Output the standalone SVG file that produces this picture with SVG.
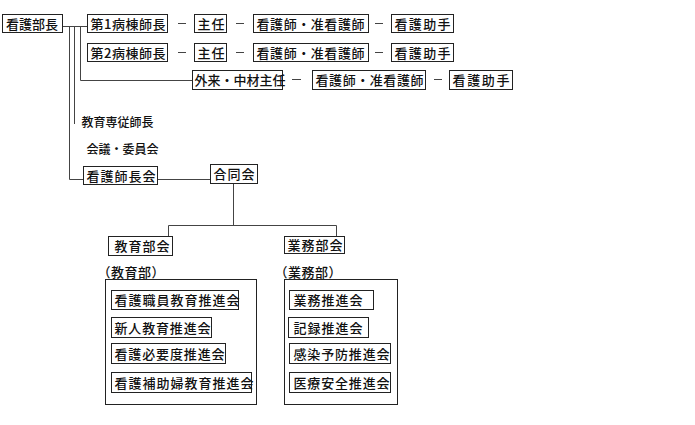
<svg xmlns="http://www.w3.org/2000/svg" width="695" height="425" viewBox="0 0 695 425">
<style>
.b{fill:#fff;stroke:#222;stroke-width:1}
.g{fill:none;stroke:#222;stroke-width:1}
.t{font-family:"Noto Sans CJK JP","Noto Sans CJK SC",sans-serif;font-size:13px;font-weight:500;fill:#111}
.s{font-size:12px}
.c{fill:none;stroke:#444;stroke-width:1}
</style>
<rect width="695" height="425" fill="#fff"/>
<g id="connectors">
<path class="c" d="M62 26.5H87.5"/>
<path class="c" d="M69.5 26.5V179.5H83.5"/>
<path class="c" d="M74.5 26.5V124"/>
<path class="c" d="M80.5 26.5V80.5H192.5"/>
<path class="c" d="M157.5 179.5H210.5"/>
<path class="c" d="M233.5 183.5V225.5M168.5 236V225.5H336.5V236"/>
<path class="c" d="M178 23.5H186M236 23.5H244M375 23.5H383M178 52.5H186M236 52.5H244M375 52.5H383M292 79.5H301M434 79.5H442"/>
</g>
<g id="bucho"><rect class="b" x="2.5" y="14.5" width="60" height="18"/><text class="t" x="6" y="28.5" textLength="52" lengthAdjust="spacing">看護部長</text></g>
<g id="ward1"><rect class="b" x="87.5" y="14.5" width="80" height="18"/><text class="t" x="90.5" y="28.5" textLength="75" lengthAdjust="spacing">第1病棟師長</text></g>
<g id="shunin1"><rect class="b" x="194.5" y="14.5" width="32" height="18"/><text class="t" x="197.5" y="28.5" textLength="27" lengthAdjust="spacing">主任</text></g>
<g id="kangoshi1"><rect class="b" x="253.5" y="14.5" width="115" height="18"/><text class="t" x="256.5" y="28.5" textLength="108" lengthAdjust="spacing">看護師・准看護師</text></g>
<g id="joshu1"><rect class="b" x="391.5" y="14.5" width="62" height="18"/><text class="t" x="394.5" y="28.5" textLength="56" lengthAdjust="spacing">看護助手</text></g>
<g id="ward2"><rect class="b" x="87.5" y="43.5" width="80" height="18"/><text class="t" x="90.5" y="57.5" textLength="75" lengthAdjust="spacing">第2病棟師長</text></g>
<g id="shunin2"><rect class="b" x="194.5" y="43.5" width="32" height="18"/><text class="t" x="197.5" y="57.5" textLength="27" lengthAdjust="spacing">主任</text></g>
<g id="kangoshi2"><rect class="b" x="253.5" y="43.5" width="115" height="18"/><text class="t" x="256.5" y="57.5" textLength="108" lengthAdjust="spacing">看護師・准看護師</text></g>
<g id="joshu2"><rect class="b" x="391.5" y="43.5" width="62" height="18"/><text class="t" x="394.5" y="57.5" textLength="56" lengthAdjust="spacing">看護助手</text></g>
<g id="gairai"><rect class="b" x="192.5" y="70.5" width="90" height="19"/><text class="t" x="194.5" y="85" textLength="91" lengthAdjust="spacing">外来・中材主任</text></g>
<g id="kangoshi3"><rect class="b" x="312.5" y="70.5" width="113" height="19"/><text class="t" x="315.5" y="85" textLength="108" lengthAdjust="spacing">看護師・准看護師</text></g>
<g id="joshu3"><rect class="b" x="449.5" y="70.5" width="63" height="19"/><text class="t" x="452.5" y="85" textLength="57" lengthAdjust="spacing">看護助手</text></g>
<g id="senju"><text class="t s" x="81.5" y="126.5">教育専従師長</text></g>
<g id="kaigi"><text class="t s" x="86.5" y="153.5">会議・委員会</text></g>
<g id="shichokai"><rect class="b" x="83.5" y="166.5" width="74" height="18"/><text class="t" x="86.5" y="180.5" textLength="69" lengthAdjust="spacing">看護師長会</text></g>
<g id="godokai"><rect class="b" x="210.5" y="164.5" width="47" height="19"/><text class="t" x="213.5" y="179" textLength="41" lengthAdjust="spacing">合同会</text></g>
<g id="kyoikubukai"><rect class="b" x="108.5" y="236.5" width="64" height="19"/><text class="t" x="114.5" y="251" textLength="55" lengthAdjust="spacing">教育部会</text></g>
<g id="gyomubukai"><rect class="b" x="284.5" y="236.5" width="60" height="17"/><text class="t" x="287.5" y="250" textLength="55" lengthAdjust="spacing">業務部会</text></g>
<g id="kyoikubu">
<text class="t" x="97.5" y="276.5" textLength="67" lengthAdjust="spacing">（教育部）</text>
<rect class="g" x="105.5" y="279.5" width="151" height="125"/>
</g>
<g id="gyomubu">
<text class="t" x="274.5" y="276.5" textLength="67" lengthAdjust="spacing">（業務部）</text>
<rect class="g" x="284.5" y="279.5" width="113" height="125"/>
</g>
<g id="k1"><rect class="b" x="111.5" y="290.5" width="127" height="19"/><text class="t" x="114.5" y="305" textLength="125" lengthAdjust="spacing">看護職員教育推進会</text></g>
<g id="k2"><rect class="b" x="111.5" y="317.5" width="100" height="20"/><text class="t" x="114.5" y="332.5" textLength="96" lengthAdjust="spacing">新人教育推進会</text></g>
<g id="k3"><rect class="b" x="111.5" y="343.5" width="114" height="20"/><text class="t" x="114.5" y="358.5" textLength="110" lengthAdjust="spacing">看護必要度推進会</text></g>
<g id="k4"><rect class="b" x="111.5" y="372.5" width="140" height="20"/><text class="t" x="114.5" y="387.5" textLength="139" lengthAdjust="spacing">看護補助婦教育推進会</text></g>
<g id="g1"><rect class="b" x="289.5" y="290.5" width="84" height="19"/><text class="t" x="293.5" y="305" textLength="69" lengthAdjust="spacing">業務推進会</text></g>
<g id="g2"><rect class="b" x="288.5" y="317.5" width="80" height="20"/><text class="t" x="293.5" y="332.5" textLength="69" lengthAdjust="spacing">記録推進会</text></g>
<g id="g3"><rect class="b" x="289.5" y="343.5" width="101" height="20"/><text class="t" x="293.5" y="358.5" textLength="96" lengthAdjust="spacing">感染予防推進会</text></g>
<g id="g4"><rect class="b" x="289.5" y="372.5" width="101" height="20"/><text class="t" x="293.5" y="387.5" textLength="96" lengthAdjust="spacing">医療安全推進会</text></g>
</svg>
